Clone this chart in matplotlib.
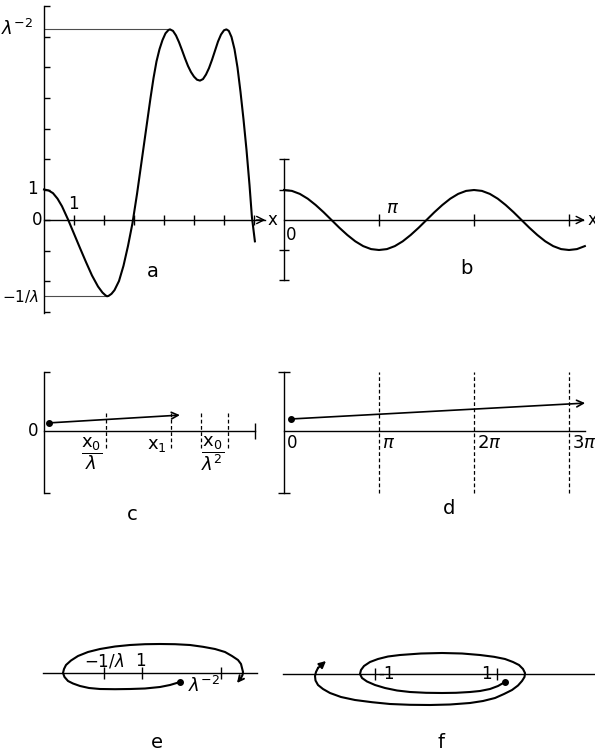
import numpy as np
import matplotlib
matplotlib.use('Agg')
import matplotlib.pyplot as plt

plt.rcParams['font.family'] = ['DejaVu Sans']
plt.rcParams['mathtext.fontset'] = 'dejavusans'

# ---- panel a: map curve (x in units, y in units, lambda = 0.4)
lam = 0.4
xa = [0.0, 0.15, 0.3, 0.45, 0.6, 0.8, 1.0, 1.2, 1.4, 1.6, 1.8, 1.95, 2.05,
      2.1, 2.15, 2.25, 2.35, 2.5, 2.65, 2.8, 2.95, 3.1, 3.25, 3.4, 3.55,
      3.65, 3.75, 3.85, 3.95, 4.05, 4.15, 4.2, 4.3, 4.4, 4.5, 4.6, 4.7, 4.8,
      4.9, 5.0, 5.1, 5.2, 5.3, 5.4, 5.5, 5.6, 5.7, 5.8, 5.9, 6.0, 6.08, 6.16,
      6.25, 6.35, 6.45, 6.55, 6.65, 6.75, 6.85, 6.93, 7.03]
ya = [1.00, 0.97, 0.88, 0.70, 0.45, 0.02, -0.45, -0.92, -1.38, -1.82, -2.18,
      -2.38, -2.47, -2.50, -2.49, -2.42, -2.30, -2.0, -1.5, -0.85, -0.1, 0.85,
      1.9, 2.95, 4.0, 4.65, 5.2, 5.6, 5.9, 6.12, 6.23, 6.25, 6.2, 6.05, 5.83,
      5.57, 5.3, 5.05, 4.85, 4.7, 4.6, 4.57, 4.62, 4.77, 4.98, 5.25, 5.55,
      5.85, 6.08, 6.22, 6.25, 6.2, 6.0, 5.6, 5.0, 4.2, 3.3, 2.3, 1.15, 0.1,
      -0.7]
xa_ticks = [1, 2, 3, 4, 5, 6, 7]
ya_ticks = [-3, -2, -1, 0, 1, 2, 3, 4, 5, 6, 7]
xa_peak, xa_min = 4.2, 2.1

# ---- panel b: phase curve (x in radians, step pi/12)
yb = [1.00, 0.97, 0.87, 0.71, 0.50, 0.26, 0.00, -0.26, -0.50, -0.71, -0.87,
      -0.97, -1.00, -0.97, -0.87, -0.71, -0.50, -0.26, 0.00, 0.26, 0.50, 0.71,
      0.87, 0.97, 1.00, 0.97, 0.87, 0.71, 0.50, 0.26, 0.00, -0.26, -0.50,
      -0.71, -0.87, -0.97, -1.00, -0.97, -0.87]
xb = np.arange(len(yb)) * np.pi / 12
xb_ticks = [np.pi, 2 * np.pi, 3 * np.pi]

# ---- panel c
xc_dash = [2.07, 4.23, 5.23, 6.13]
c_start, c_end = (0.17, 0.27), (4.53, 0.53)

# ---- panel d (x in units of pi)
xd_dash = [1, 2, 3]
d_start, d_end = (0.07, 0.40), (3.17, 0.93)

# ---- panel e: spiral orbit
xe = [13.7, 12.7, 11.7, 10.2, 8.7, 7.2, 5.7, 4.6, 3.7, 3.0, 2.5, 2.15, 2.0,
      2.1, 2.3, 2.8, 3.5, 4.5, 5.7, 7.2, 8.7, 10.2, 11.7, 13.2, 14.7, 16.0,
      17.2, 18.2, 18.9, 19.5, 19.8, 20.0, 19.95, 19.8]
ye = [-0.9, -1.2, -1.4, -1.55, -1.6, -1.62, -1.6, -1.5, -1.3, -1.05, -0.8,
      -0.4, 0.0, 0.4, 0.8, 1.25, 1.7, 2.1, 2.4, 2.65, 2.8, 2.88, 2.9, 2.88,
      2.8, 2.62, 2.4, 2.1, 1.7, 1.3, 0.9, 0.1, -0.2, -0.5]
e_tip = (19.4, -1.0)
xe_ticks = [6.1, 9.9, 17.8]

# ---- panel f: spiral orbit
xf = [22.2, 21.5, 20.7, 19.7, 18.7, 17.3, 15.9, 14.3, 12.7, 11.4, 10.2, 9.2,
      8.4, 7.9, 7.7, 7.8, 8.1, 8.7, 9.5, 10.5, 11.7, 13.8, 15.9, 17.9, 19.7,
      21.1, 22.2, 23.0, 23.6, 24.0, 24.2, 24.15, 23.9, 23.5, 22.9, 22.1,
      21.2, 20.0, 18.7, 16.7, 14.7, 12.7, 10.7, 8.9, 7.2, 5.8, 4.7, 4.0, 3.5,
      3.25, 3.2, 3.3, 3.5]
yf = [-0.8, -1.2, -1.5, -1.7, -1.8, -1.88, -1.9, -1.88, -1.8, -1.65, -1.4,
      -1.1, -0.75, -0.4, 0.0, 0.4, 0.8, 1.2, 1.5, 1.75, 1.9, 2.05, 2.1, 2.05,
      1.9, 1.72, 1.5, 1.2, 0.9, 0.5, 0.1, -0.3, -0.7, -1.15, -1.6, -2.0,
      -2.4, -2.7, -2.9, -3.05, -3.1, -3.08, -3.0, -2.82, -2.6, -2.3, -1.9,
      -1.5, -1.1, -0.65, -0.2, 0.2, 0.6]
f_tip = (4.3, 1.3)
xf_ticks = [9.2, 21.4]

W, H = 595, 753
fig = plt.figure(figsize=(W / 100, H / 100), dpi=100)
fig.set_facecolor('white')


def panel(box, origin, scale):
    left, top, right, bottom = box
    ax = fig.add_axes([left / W, 1 - bottom / H, (right - left) / W, (bottom - top) / H])
    ox, oy = origin
    sx, sy = scale
    ax.set_xlim((left - ox) / sx, (right - ox) / sx)
    ax.set_ylim((oy - bottom) / sy, (oy - top) / sy)
    ax.patch.set_visible(False)
    for s in ['top', 'right']:
        ax.spines[s].set_visible(False)
    for s in ['left', 'bottom']:
        ax.spines[s].set_position(('data', 0))
        ax.spines[s].set_linewidth(1.0)
    ax.tick_params(labelbottom=False, labelleft=False, width=1.0)
    return ax


def axis_arrow(ax, tip):
    ax.annotate('', xy=(tip, 0), xytext=(tip - 0.3, 0),
                arrowprops=dict(arrowstyle='->', lw=1.0, color='k',
                                mutation_scale=13, shrinkA=0, shrinkB=0))


lw_curve = 1.5
fs = 12

# ---------------- a
ax = panel((0, 0, 290, 330), (44, 220), (30, 30.5))
ax.spines['left'].set_bounds(-3.05, 7)
ax.spines['bottom'].set_bounds(0, 7.35)
ax.set_xticks(xa_ticks)
ax.set_yticks(ya_ticks)
ax.tick_params(axis='x', direction='inout', length=7)
ax.tick_params(axis='y', direction='in', length=4)
axis_arrow(ax, 7.38)
ax.hlines(lam ** -2, 0, xa_peak, color='0.3', lw=0.8)
ax.hlines(-1 / lam, 0, xa_min, color='0.3', lw=0.8)
ax.plot(xa, ya, color='k', lw=lw_curve, solid_joinstyle='round')
ax.text(-0.35, lam ** -2, r'$\lambda^{-2}$', ha='right', va='center', fontsize=13)
ax.text(-0.2, 1, '1', ha='right', va='center', fontsize=fs)
ax.text(-0.07, 0, '0', ha='right', va='center', fontsize=fs)
ax.text(-0.18, -1 / lam, r'$\mathregular{-1/}\lambda$', ha='right', va='center', fontsize=11)
ax.text(0.97, 0.22, '1', ha='center', va='bottom', fontsize=fs)
ax.text(7.6, 0, 'x', ha='center', va='center', fontsize=fs)
ax.text(3.63, -1.7, 'a', ha='center', va='center', fontsize=14)

# ---------------- b
ax = panel((270, 130, 595, 300), (284, 220), (30.24, 30))
ax.spines['left'].set_bounds(-2.0, 2.05)
ax.spines['bottom'].set_bounds(0, 9.9)
ax.set_xticks(xb_ticks)
ax.set_yticks([-2.0, -1, 1, 2.05])
ax.tick_params(axis='x', direction='inout', length=8)
ax.tick_params(axis='y', direction='inout', length=7)
axis_arrow(ax, 9.95)
ax.plot(xb, yb, color='k', lw=lw_curve, solid_joinstyle='round')
ax.text(3.6, 0.4, r'$\pi$', ha='center', va='center', fontsize=13)
ax.text(0.23, -0.5, '0', ha='center', va='center', fontsize=fs)
ax.text(10.2, 0, 'x', ha='center', va='center', fontsize=fs)
ax.text(6.02, -1.6, 'b', ha='center', va='center', fontsize=14)

# ---------------- c
ax = panel((0, 360, 290, 530), (44, 431), (30, 30))
ax.spines['left'].set_bounds(-2.07, 1.97)
ax.spines['bottom'].set_bounds(0, 7.03)
ax.set_xticks([7.03])
ax.set_yticks([-2.07, 1.97])
ax.tick_params(axis='x', direction='inout', length=11)
ax.tick_params(axis='y', direction='in', length=4)
ax.vlines(xc_dash, -0.57, 0.6, colors='k', lw=0.9, linestyles=(0, (3, 2)))
ax.plot(*c_start, 'o', color='k', ms=4)
ax.annotate('', xy=c_end, xytext=c_start,
            arrowprops=dict(arrowstyle='->', lw=1.2, color='k',
                            mutation_scale=12, shrinkA=0, shrinkB=0))
ax.text(-0.35, 0, '0', ha='center', va='center', fontsize=fs)
ax.text(1.6, -0.75, r'$\dfrac{\mathsf{x_0}}{\lambda}$', ha='center', va='center', fontsize=13)
ax.text(3.77, -0.47, r'$\mathsf{x_1}$', ha='center', va='center', fontsize=13)
ax.text(5.63, -0.75, r'$\dfrac{\mathsf{x_0}}{\lambda^2}$', ha='center', va='center', fontsize=13)
ax.text(2.93, -2.8, 'c', ha='center', va='center', fontsize=14)

# ---------------- d
ax = panel((270, 360, 595, 530), (284, 431), (95, 30))
ax.spines['left'].set_bounds(-2.07, 1.97)
ax.spines['bottom'].set_bounds(0, 3.17)
ax.set_xticks([])
ax.set_yticks([-2.07, 1.97])
ax.tick_params(axis='y', direction='inout', length=8)
ax.vlines(xd_dash, -2.07, 1.97, colors='k', lw=0.9, linestyles=(0, (3, 2)))
ax.plot(*d_start, 'o', color='k', ms=4)
ax.annotate('', xy=d_end, xytext=d_start,
            arrowprops=dict(arrowstyle='->', lw=1.2, color='k',
                            mutation_scale=12, shrinkA=0, shrinkB=0))
for xv, lab in zip([0] + xd_dash, ['0', r'$\pi$', r'$\mathregular{2}\pi$', r'$\mathregular{3}\pi$']):
    ax.text(xv + 0.03, -0.4, lab, ha='left', va='center', fontsize=13 if xv else fs)
ax.text(1.74, -2.6, 'd', ha='center', va='center', fontsize=14)

# ---------------- e
ax = panel((20, 620, 290, 753), (43, 673), (10, 10))
ax.spines['left'].set_visible(False)
ax.spines['bottom'].set_bounds(0, 21.4)
ax.set_xticks(xe_ticks)
ax.set_yticks([])
ax.tick_params(axis='x', direction='inout', length=9)
ax.plot(xe, ye, color='k', lw=lw_curve, solid_joinstyle='round')
ax.plot(xe[0], ye[0], 'o', color='k', ms=4)
ax.annotate('', xy=e_tip, xytext=(xe[-1], ye[-1]),
            arrowprops=dict(arrowstyle='->', lw=1.4, color='k',
                            mutation_scale=10, shrinkA=0, shrinkB=0))
ax.text(6.1, 1.2, r'$\mathregular{-1/}\lambda$', ha='center', va='center', fontsize=fs)
ax.text(9.7, 1.2, '1', ha='center', va='center', fontsize=fs)
ax.text(17.7, -1.3, r'$\lambda^{-2}$', ha='right', va='center', fontsize=13)
ax.text(11.4, -6.9, 'e', ha='center', va='center', fontsize=14)

# ---------------- f
ax = panel((280, 620, 595, 753), (283, 674), (10, 10))
ax.spines['left'].set_visible(False)
ax.spines['bottom'].set_bounds(0, 31.2)
ax.set_xticks(xf_ticks)
ax.set_yticks([])
ax.tick_params(axis='x', direction='inout', length=9)
ax.plot(xf, yf, color='k', lw=lw_curve, solid_joinstyle='round')
ax.plot(xf[0], yf[0], 'o', color='k', ms=4)
ax.annotate('', xy=f_tip, xytext=(xf[-1], yf[-1]),
            arrowprops=dict(arrowstyle='-|>', lw=1.4, color='k',
                            mutation_scale=10, shrinkA=0, shrinkB=0))
ax.text(9.5, 0, '-1', ha='left', va='center', fontsize=fs)
ax.text(20.9, 0, '1', ha='right', va='center', fontsize=fs)
ax.text(15.8, -6.8, 'f', ha='center', va='center', fontsize=14)

fig.savefig('out.png', dpi=100)
